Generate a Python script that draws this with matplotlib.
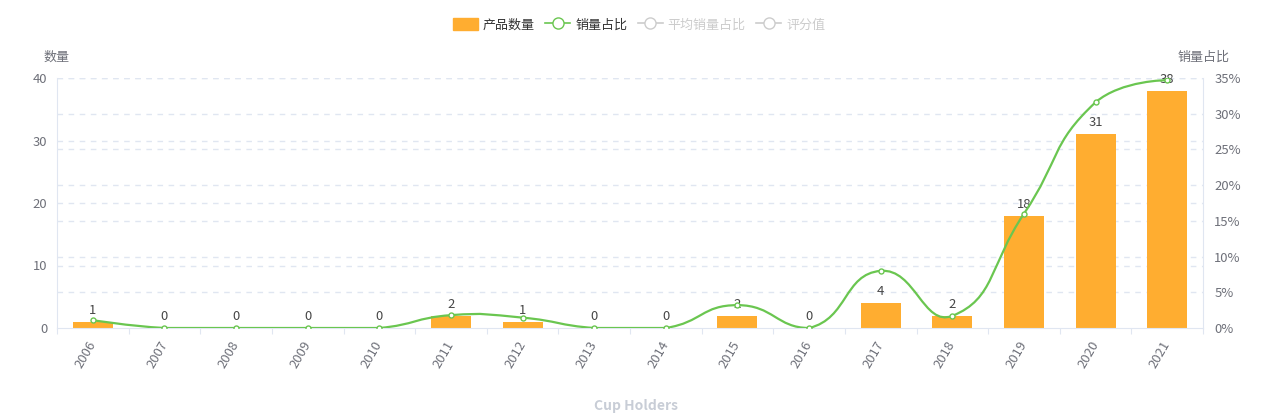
"""
Cup Holders: yearly product count (bars) and sales share (smooth line).
"""

import numpy as np
import matplotlib
matplotlib.use("Agg")
import matplotlib.pyplot as plt
from matplotlib.path import Path
from matplotlib.patches import PathPatch, Patch
from matplotlib.lines import Line2D

plt.rcParams["font.family"] = ["Noto Sans CJK SC", "DejaVu Sans"]

YEARS = ["2006", "2007", "2008", "2009", "2010", "2011", "2012", "2013",
         "2014", "2015", "2016", "2017", "2018", "2019", "2020", "2021"]
COUNTS = [1, 0, 0, 0, 0, 2, 1, 0, 0, 2, 0, 4, 2, 18, 31, 38]
SHARE_PCT = [1.1, 0, 0, 0, 0, 1.8, 1.45, 0, 0, 3.2, 0, 8.0, 1.7, 16.0, 31.6, 34.7]
LEGEND_LABELS = ["产品数量", "销量占比", "平均销量占比", "评分值"]

BAR_COLOR = "#FFAD30"
LINE_COLOR = "#6AC650"
AXIS_COLOR = "#E0E6F1"
TICK_TEXT = "#6E7079"
FS = 9.4
OUT_PATH = "out.png"


def smooth_path(xy, smooth=0.5):
    """echarts-like bezier smoothing of points given in display coords."""
    n = len(xy)
    ymin, ymax = xy[:, 1].min(), xy[:, 1].max()
    verts = [xy[0]]
    codes = [Path.MOVETO]
    for i in range(n - 1):
        p0 = xy[i]
        p1 = xy[i + 1]
        prev = xy[i - 1] if i > 0 else p0
        nxt2 = xy[i + 2] if i + 2 < n else p1
        v = (p1 - prev) * smooth
        d0 = np.hypot(*(p0 - prev))
        d1 = np.hypot(*(p1 - p0))
        r = d1 / (d0 + d1) if d0 + d1 > 0 else 0.5
        c1 = p0 + v * r if i > 0 else p0.copy()
        v2 = (nxt2 - p0) * smooth
        e0 = np.hypot(*(p1 - p0))
        e1 = np.hypot(*(nxt2 - p1))
        r2 = e0 / (e0 + e1) if e0 + e1 > 0 else 0.5
        c2 = p1 - v2 * r2 if i + 2 < n else p1.copy()
        c1[1] = np.clip(c1[1], ymin, ymax)
        c2[1] = np.clip(c2[1], ymin, ymax)
        verts += [c1, c2, p1]
        codes += [Path.CURVE4] * 3
    return Path(np.array(verts), codes)


def main():
    W, H = 1278, 417
    fig = plt.figure(figsize=(W / 100, H / 100), dpi=100)
    left, right, top, bottom = 57, 1203, 78, 328
    ax = fig.add_axes([left / W, (H - bottom) / H, (right - left) / W, (bottom - top) / H])
    ax2 = ax.twinx()

    x = np.arange(len(YEARS))
    ax.set_xlim(-0.5, len(YEARS) - 0.5)
    left_max, right_max = 40, 35
    ax.set_ylim(0, left_max)
    ax2.set_ylim(0, right_max)

    # grid lines of both axes, drawn behind the bars
    for t in [10, 20, 30, 40]:
        ax.axhline(t, color=AXIS_COLOR, lw=1, ls=(0, (4, 4)), zorder=0)
    for t in [5, 10, 15, 20, 25, 30, 35]:
        ax.axhline(t / right_max * left_max, color=AXIS_COLOR, lw=1, ls=(0, (4, 4)), zorder=0)

    ax.bar(x, COUNTS, width=0.56, color=BAR_COLOR, zorder=2)
    for xi, c in zip(x, COUNTS):
        ax.annotate(str(c), (xi, c), xytext=(0, 3.5), textcoords="offset points",
                    ha="center", va="bottom", fontsize=FS, color="#464646", zorder=3)

    # smooth line drawn in display space
    fig.canvas.draw()
    pts = ax2.transData.transform(np.column_stack([x, SHARE_PCT]))
    path = smooth_path(pts)
    path = Path(ax2.transData.inverted().transform(path.vertices), path.codes)
    ax2.add_patch(PathPatch(path, fill=False, edgecolor=LINE_COLOR, lw=1.6, zorder=4))
    ax2.plot(x, SHARE_PCT, ls="none", marker="o", ms=3.6, mfc="white",
             mec=LINE_COLOR, mew=1, zorder=5)

    for a in (ax, ax2):
        for s in a.spines.values():
            s.set_visible(False)
    ax.spines["left"].set_visible(True)
    ax.spines["left"].set_color(AXIS_COLOR)
    ax.spines["bottom"].set_visible(True)
    ax.spines["bottom"].set_color(AXIS_COLOR)
    ax2.spines["right"].set_visible(True)
    ax2.spines["right"].set_color(AXIS_COLOR)
    ax2.patch.set_visible(False)

    ax.set_yticks([0, 10, 20, 30, 40])
    ax.tick_params(axis="y", length=0, pad=7, labelsize=FS, labelcolor=TICK_TEXT)
    ax2.set_yticks([0, 5, 10, 15, 20, 25, 30, 35])
    ax2.set_yticklabels([f"{t}%" for t in range(0, 40, 5)])
    ax2.tick_params(axis="y", length=0, pad=8, labelsize=FS, labelcolor=TICK_TEXT)

    ax.set_xticks(np.arange(len(YEARS) + 1) - 0.5, minor=False)
    ax.set_xticklabels([])
    ax.tick_params(axis="x", which="major", length=4, color=AXIS_COLOR)
    ax.set_xticks(x, minor=True)
    ax.set_xticklabels(YEARS, minor=True, rotation=60, ha="right", va="center",
                       rotation_mode="anchor")
    ax.tick_params(axis="x", which="minor", length=0, pad=10, labelsize=FS,
                   labelcolor=TICK_TEXT)

    # axis names
    fig.text(57 / W, 1 - 57 / H, "数量", ha="center", va="center", fontsize=FS, color=TICK_TEXT)
    fig.text(1204 / W, 1 - 57 / H, "销量占比", ha="center", va="center", fontsize=FS, color=TICK_TEXT)

    # legend
    handles = [
        Patch(facecolor=BAR_COLOR, edgecolor=BAR_COLOR),
        Line2D([], [], color=LINE_COLOR, lw=1.2, marker="o", ms=8, mfc="white", mec=LINE_COLOR),
        Line2D([], [], color="#CCCCCC", lw=1.2, marker="o", ms=8, mfc="white", mec="#CCCCCC"),
        Line2D([], [], color="#CCCCCC", lw=1.2, marker="o", ms=8, mfc="white", mec="#CCCCCC"),
    ]
    leg = fig.legend(handles, LEGEND_LABELS, loc="center", bbox_to_anchor=(0.5, 1 - 25 / H),
                     ncol=4, frameon=False, fontsize=FS, handlelength=1.9, handleheight=1.0,
                     handletextpad=0.4, columnspacing=0.8)
    for txt, col in zip(leg.get_texts(), ["#333333", "#333333", "#CCCCCC", "#CCCCCC"]):
        txt.set_color(col)

    fig.text(636 / W, 1 - 406 / H, "Cup Holders", ha="center", va="center",
             fontsize=10, fontweight="bold", color="#C8CDD6")

    fig.savefig(OUT_PATH, dpi=100)


if __name__ == "__main__":
    main()
